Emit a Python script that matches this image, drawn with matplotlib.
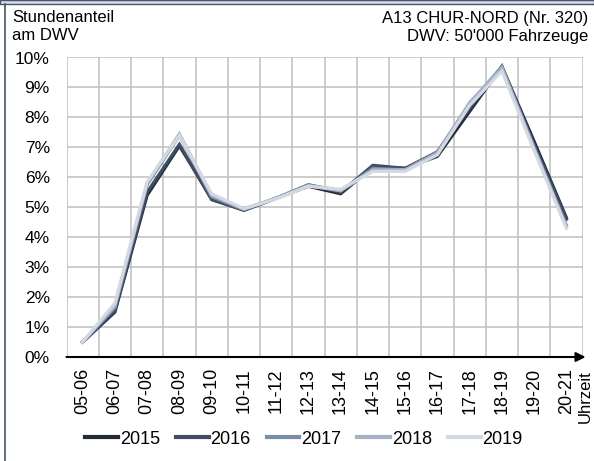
import matplotlib
matplotlib.use('Agg')
import matplotlib.pyplot as plt
from matplotlib.patches import Rectangle
from matplotlib.lines import Line2D

plt.rcParams['font.family'] = ['Liberation Sans', 'DejaVu Sans']

hours = ['05-06', '06-07', '07-08', '08-09', '09-10', '10-11', '11-12', '12-13',
         '13-14', '14-15', '15-16', '16-17', '17-18', '18-19', '19-20', '20-21']

y2015 = [0.5, 1.50, 5.40, 7.05, 5.30, 4.90, 5.30, 5.70, 5.45, 6.35, 6.30, 6.70, 8.20, 9.70, 7.20, 4.65]
y2016 = [0.5, 1.55, 5.50, 7.10, 5.25, 4.90, 5.30, 5.75, 5.50, 6.40, 6.30, 6.85, 8.30, 9.70, 7.10, 4.60]
y2017 = [0.5, 1.65, 5.75, 7.40, 5.35, 4.92, 5.30, 5.75, 5.55, 6.30, 6.25, 6.85, 8.45, 9.70, 7.00, 4.40]
y2018 = [0.5, 1.70, 5.80, 7.45, 5.40, 4.95, 5.30, 5.72, 5.55, 6.25, 6.25, 6.80, 8.50, 9.65, 6.95, 4.35]
y2019 = [0.5, 1.80, 5.85, 7.40, 5.45, 4.95, 5.28, 5.70, 5.60, 6.20, 6.20, 6.75, 8.40, 9.55, 6.90, 4.30]

years = ['2015', '2016', '2017', '2018', '2019']
series = [y2015, y2016, y2017, y2018, y2019]
colors = ['#222B38', '#3F4D63', '#7A8DA8', '#A4B2C6', '#D3D9E2']

W, H = 594, 461
fig = plt.figure(figsize=(W / 100, H / 100), dpi=100)
ax = fig.add_axes([66.5 / W, 1 - 357 / H, (582.5 - 66.5) / W, (357 - 57.5) / H])

x = list(range(len(hours)))
for ys, c, yr in zip(series, colors, years):
    ax.plot(x, ys, color=c, lw=2.3, label=yr, solid_joinstyle='miter')

ax.set_xlim(-0.5, len(hours) - 0.5)
ax.set_ylim(0, 10)

# grid
for k in range(len(hours) + 1):
    ax.axvline(k - 0.5, color='#BFBFBF', lw=1.1, zorder=0)
for v in range(1, 11):
    ax.axhline(v, color='#BFBFBF', lw=1.1, zorder=0)

for s in ax.spines.values():
    s.set_visible(False)

ax.set_yticks(range(0, 11))
ax.set_yticklabels([f'{v}%' for v in range(0, 11)], fontsize=12.5)
ax.set_xticks(x)
ax.set_xticklabels(hours, rotation=90, fontsize=13)
ax.tick_params(length=0)
ax.tick_params(axis='x', pad=8)
ax.tick_params(axis='y', pad=12)

# x axis with arrow
ax.annotate('', xy=(1.006, 0), xycoords='axes fraction', xytext=(0, 0),
            arrowprops=dict(arrowstyle='-|>', color='black', lw=1.5,
                            mutation_scale=14, shrinkA=0, shrinkB=0))
fig.text(585 / W, 1 - 370 / H, 'Uhrzeit', rotation=90, ha='center', va='top', fontsize=12)

# header
fig.text(12 / W, 1 - 18 / H, 'Stundenanteil', fontsize=12, va='center')
fig.text(12 / W, 1 - 36 / H, 'am DWV', fontsize=12, va='center')
fig.text(588 / W, 1 - 18 / H, 'A13 CHUR-NORD (Nr. 320)', fontsize=12, va='center', ha='right')
fig.text(588 / W, 1 - 36 / H, "DWV: 50'000 Fahrzeuge", fontsize=12, va='center', ha='right')

# frame
fig.add_artist(Rectangle((0, 1 - 4 / H), 1, 4 / H, transform=fig.transFigure,
                         facecolor='#D6DCE4', edgecolor='#44546A', lw=1))
fig.add_artist(Line2D([4.5 / W, 4.5 / W], [0, 1 - 4 / H], transform=fig.transFigure,
                      color='#44546A', lw=1.2))

handles = [Line2D([0], [0], color=c, lw=3) for c in colors]
fig.legend(handles, years, loc='center', bbox_to_anchor=(304 / W, 1 - 439 / H),
           ncol=5, frameon=False, fontsize=13, handlelength=1.8,
           handletextpad=0.1, columnspacing=0.9)

fig.savefig('out.png', dpi=100)
